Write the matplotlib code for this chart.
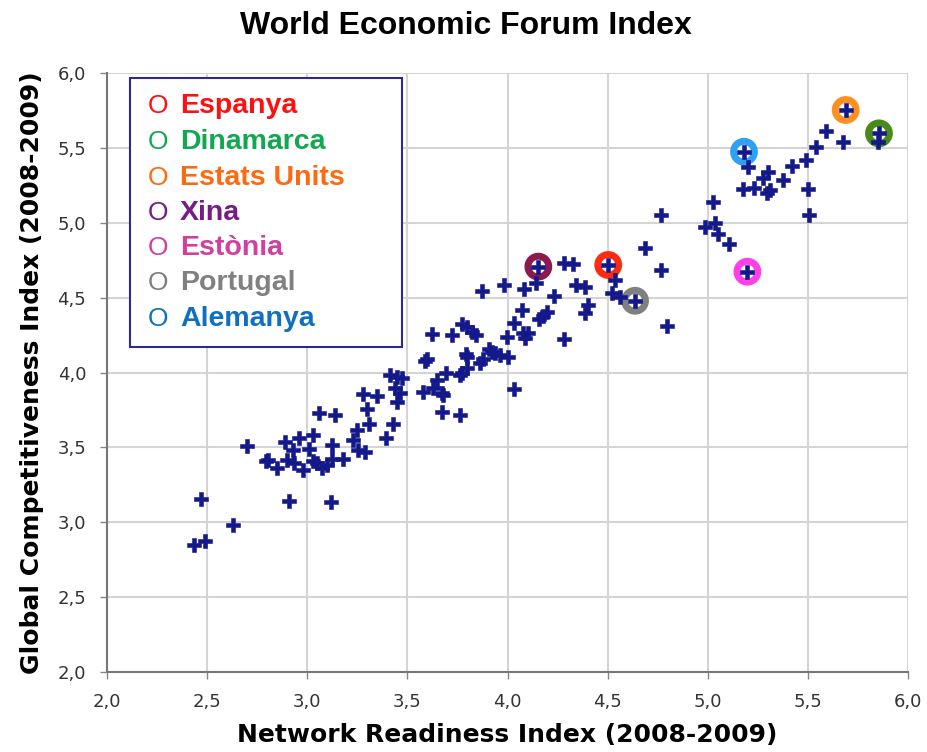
import matplotlib
matplotlib.use("Agg")
import matplotlib.pyplot as plt
from matplotlib.patches import Rectangle

# ---- data ----
nri = [2.434, 2.489, 2.468, 2.628, 2.698, 2.909, 3.119,
       2.804, 2.794, 2.847, 2.889, 2.959, 3.03, 2.93, 3.01, 3.122, 2.897, 2.934, 2.98, 3.03,
       3.047, 3.072, 3.097, 3.122, 3.18, 3.06, 3.139, 3.23, 3.247, 3.255, 3.288, 3.31, 3.3,
       3.28, 3.35, 3.392, 3.43, 3.438, 3.463, 3.45, 3.413, 3.446, 3.472,
       3.58, 3.628, 3.646, 3.671, 3.68, 3.671, 3.763, 4.033,
       3.621, 3.721, 3.596, 3.588, 3.793, 3.796, 3.693, 3.763, 3.796, 3.771, 3.863, 3.879,
       3.909, 3.938, 3.963, 4.004, 3.921,
       3.771, 3.796, 3.843, 3.821,
       3.996, 4.079, 4.104, 4.087, 4.282, 4.033, 4.071, 4.196, 4.179, 4.159,
       3.873, 3.983, 4.082, 4.142, 4.232, 4.342, 4.387, 4.403, 4.387,
       4.282, 4.325, 4.537, 4.52, 4.562,
       4.765, 4.687, 4.765, 4.795,
       4.986, 5.036, 5.05, 5.108, 5.025,
       5.2, 5.175, 5.231, 5.302, 5.277, 5.311, 5.297, 5.377, 5.419, 5.489, 5.499, 5.507,
       5.539, 5.589, 5.677, 5.852]
gci = [2.848, 2.877, 3.153, 2.98, 3.509, 3.144, 3.133,
       3.416, 3.407, 3.362, 3.536, 3.563, 3.58, 3.483, 3.491, 3.516, 3.416, 3.398, 3.349, 3.41,
       3.394, 3.36, 3.382, 3.42, 3.424, 3.727, 3.714, 3.549, 3.616, 3.483, 3.471, 3.654, 3.754,
       3.854, 3.843, 3.565, 3.656, 3.894, 3.863, 3.805, 3.983, 3.972, 3.961,
       3.872, 3.896, 3.95, 3.865, 3.85, 3.738, 3.716, 3.888,
       4.257, 4.25, 4.088, 4.079, 4.124, 4.106, 3.999, 3.983, 4.028, 3.999, 4.061, 4.088,
       4.155, 4.128, 4.117, 4.106, 4.139,
       4.324, 4.302, 4.25, 4.273,
       4.239, 4.262, 4.262, 4.228, 4.222, 4.328, 4.417, 4.406, 4.377, 4.355,
       4.544, 4.584, 4.556, 4.6, 4.511, 4.584, 4.569, 4.451, 4.395,
       4.729, 4.725, 4.618, 4.529, 4.506,
       5.052, 4.833, 4.684, 4.313,
       4.974, 4.996, 4.925, 4.858, 5.141,
       5.374, 5.225, 5.23, 5.341, 5.301, 5.219, 5.201, 5.285, 5.379, 5.419, 5.225, 5.052,
       5.508, 5.613, 5.541, 5.541]

countries = ["Espanya", "Dinamarca", "Estats Units", "Xina", "Estònia", "Portugal", "Alemanya"]
country_nri = [4.503, 5.855, 5.689, 4.154, 5.198, 4.637, 5.181]
country_gci = [4.718, 5.597, 5.753, 4.707, 4.673, 4.479, 5.474]
ring_colors = ["#ff2a10", "#4a8a1a", "#ff9020", "#8a1a50", "#ff40e8", "#808080", "#30a0f0"]
legend_colors = ["#ff1010", "#10a850", "#ff6a10", "#781a88", "#d040a0", "#808080", "#1070c0"]

xticks = [2.0, 2.5, 3.0, 3.5, 4.0, 4.5, 5.0, 5.5, 6.0]
yticks = [2.0, 2.5, 3.0, 3.5, 4.0, 4.5, 5.0, 5.5, 6.0]
tick_labels = ["2,0", "2,5", "3,0", "3,5", "4,0", "4,5", "5,0", "5,5", "6,0"]

# ---- figure ----
fig = plt.figure(figsize=(9.27, 7.52), dpi=100)
ax = fig.add_axes([107/927, 1-672/752, (908-107)/927, (672-73)/752])

ax.set_xlim(2.0, 6.0)
ax.set_ylim(2.0, 6.0)
ax.set_xticks(xticks)
ax.set_yticks(yticks)
ax.set_xticklabels(tick_labels, fontsize=13, color="#333333")
ax.set_yticklabels(tick_labels, fontsize=13, color="#333333")
ax.tick_params(axis="both", direction="out", length=5, width=1, color="#888888")
ax.tick_params(axis="x", pad=10)
ax.tick_params(axis="y", pad=10)
ax.grid(True, color="#d4d4d4", linewidth=1.5)
ax.set_axisbelow(True)
for s in ["top", "right"]:
    ax.spines[s].set_visible(False)
for s in ["left", "bottom"]:
    ax.spines[s].set_color("#777777")
    ax.spines[s].set_linewidth(1.5)

# rings for highlighted countries
ax.scatter(country_nri, country_gci, s=15**2, facecolors="white",
           edgecolors=ring_colors, linewidths=5, zorder=3)

# all points
all_x = nri + country_nri
all_y = gci + country_gci
ax.plot(all_x, all_y, linestyle="none", marker="P", markersize=10,
        color="#13198a", markeredgecolor="#13198a", markeredgewidth=0.4, zorder=4)

ax.set_xlabel("Network Readiness Index (2008-2009)", fontsize=18, fontweight="bold",
              family="DejaVu Sans", labelpad=9)
ax.set_ylabel("Global Competitiveness Index (2008-2009)", fontsize=18, fontweight="bold",
              family="DejaVu Sans", labelpad=10)

fig.text(466/927, 1-26/752, "World Economic Forum Index", ha="center", va="center",
         fontsize=23, fontweight="bold", family="Liberation Sans")

# legend box
fig.patches.append(Rectangle((130/927, 1-347/752), (402-130)/927, (347-78)/752,
                             transform=fig.transFigure, facecolor="white",
                             edgecolor="#2a2a90", linewidth=1.5, zorder=5))
row_y = [106, 142, 178, 213, 248, 283, 319]
for name, col, yy in zip(countries, legend_colors, row_y):
    fig.text(148/927, 1-yy/752, "O", ha="left", va="center", fontsize=19,
             family="Liberation Sans", color=col, zorder=6)
    fig.text(180/927, 1-yy/752, name, ha="left", va="center", fontsize=20.5,
             fontweight="bold", family="Liberation Sans", color=col, zorder=6)

fig.savefig("out.png", dpi=100)
